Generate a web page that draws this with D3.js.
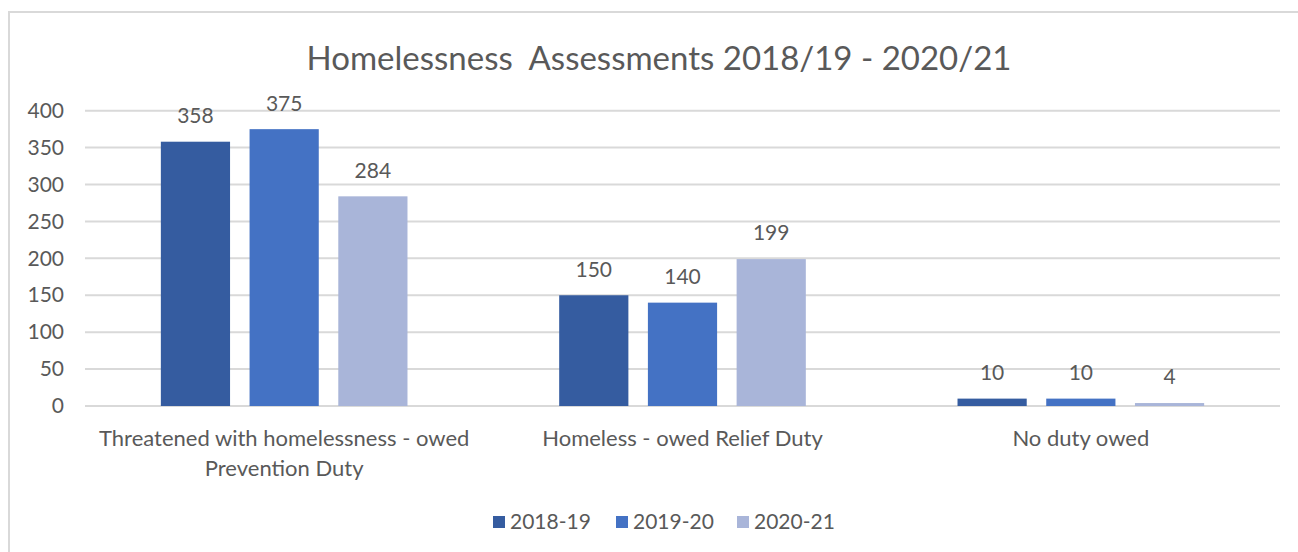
<!DOCTYPE html>
<html>
<head>
<meta charset="utf-8">
<script src="https://cdn.jsdelivr.net/npm/d3@7"></script>
<style>
  html, body { margin: 0; padding: 0; background: #fff; }
  svg { display: block; font-family: Lato, "Open Sans", sans-serif; }
</style>
</head>
<body>
<svg id="chart" width="1298" height="552"></svg>
<script>
// Homelessness assessments by duty type, three reporting years
const categories = [
  ["Threatened with homelessness - owed", "Prevention Duty"],
  ["Homeless - owed Relief Duty"],
  ["No duty owed"]
];
const seriesNames = ["2018-19", "2019-20", "2020-21"];
const values2018_19 = [358, 150, 10];
const values2019_20 = [375, 140, 10];
const values2020_21 = [284, 199, 4];
const yTicks = [0, 50, 100, 150, 200, 250, 300, 350, 400];
const titleText = "Homelessness  Assessments 2018/19 - 2020/21";

const seriesValues = [values2018_19, values2019_20, values2020_21];
const colors = ["#355ca0", "#4472c4", "#a9b5d9"];
const textColor = "#595959";
const gridColor = "#d9d9d9";

const svg = d3.select("#chart");

// outer frame of the chart area
svg.append("rect")
  .attr("x", 9).attr("y", 12)
  .attr("width", 1400).attr("height", 700)
  .attr("fill", "#fff")
  .attr("stroke", gridColor).attr("stroke-width", 2);

const plot = { left: 85, right: 1280, top: 110.7, bottom: 406 };

const x0 = d3.scaleBand()
  .domain(d3.range(categories.length))
  .range([plot.left, plot.right]);

const x1 = d3.scaleBand()
  .domain(d3.range(seriesNames.length))
  .range([0, x0.bandwidth()])
  .paddingInner(0.22)
  .paddingOuter(0.855);

const y = d3.scaleLinear().domain([0, 400]).range([plot.bottom, plot.top]);

// horizontal gridlines
svg.append("g")
  .selectAll("line")
  .data(yTicks)
  .join("line")
  .attr("x1", plot.left).attr("x2", plot.right)
  .attr("y1", d => y(d)).attr("y2", d => y(d))
  .attr("stroke", gridColor).attr("stroke-width", 2);

// y axis labels
const yAxis = d3.axisLeft(y).tickValues(yTicks).tickSize(0).tickPadding(0);
const yAxisG = svg.append("g")
  .attr("transform", `translate(64,0)`)
  .call(yAxis);
yAxisG.select(".domain").remove();
yAxisG.selectAll("text")
  .attr("fill", textColor)
  .style("font-family", "Lato, sans-serif")
  .style("font-size", "21px");

// bars
const groups = svg.append("g")
  .selectAll("g")
  .data(categories.map((c, i) => i))
  .join("g")
  .attr("transform", i => `translate(${x0(i)},0)`);

groups.selectAll("rect")
  .data(ci => seriesValues.map((vals, si) => ({ si, v: vals[ci] })))
  .join("rect")
  .attr("x", d => x1(d.si))
  .attr("width", x1.bandwidth())
  .attr("y", d => y(d.v))
  .attr("height", d => y(0) - y(d.v))
  .attr("fill", d => colors[d.si]);

// value labels
groups.selectAll("text")
  .data(ci => seriesValues.map((vals, si) => ({ si, v: vals[ci] })))
  .join("text")
  .attr("x", d => x1(d.si) + x1.bandwidth() / 2)
  .attr("y", d => y(d.v) - 26)
  .attr("dy", "0.35em")
  .attr("text-anchor", "middle")
  .attr("fill", textColor)
  .style("font-size", "21px")
  .text(d => d.v);

// category labels
const xAxis = svg.append("g");
categories.forEach((lines, i) => {
  const t = xAxis.append("text")
    .attr("x", x0(i) + x0.bandwidth() / 2)
    .attr("y", 438)
    .attr("text-anchor", "middle")
    .attr("fill", textColor)
    .style("font-size", "22px");
  lines.forEach((ln, k) => {
    t.append("tspan")
      .attr("x", x0(i) + x0.bandwidth() / 2)
      .attr("dy", k === 0 ? "0.35em" : "30px")
      .text(ln);
  });
});

// title
svg.append("text")
  .attr("x", 659).attr("y", 58)
  .attr("dy", "0.35em")
  .attr("text-anchor", "middle")
  .attr("fill", textColor)
  .style("font-size", "33px")
  .style("white-space", "pre")
  .text(titleText);

// legend
const legendX = [493, 616, 737];
const legend = svg.append("g")
  .selectAll("g")
  .data(seriesNames)
  .join("g")
  .attr("transform", (d, i) => `translate(${legendX[i]},522)`);
legend.append("rect")
  .attr("x", 0).attr("y", -6)
  .attr("width", 12).attr("height", 12)
  .attr("fill", (d, i) => colors[i]);
legend.append("text")
  .attr("x", 17).attr("dy", "0.35em")
  .attr("fill", textColor)
  .style("font-size", "21px")
  .text(d => d);
</script>
</body>
</html>
